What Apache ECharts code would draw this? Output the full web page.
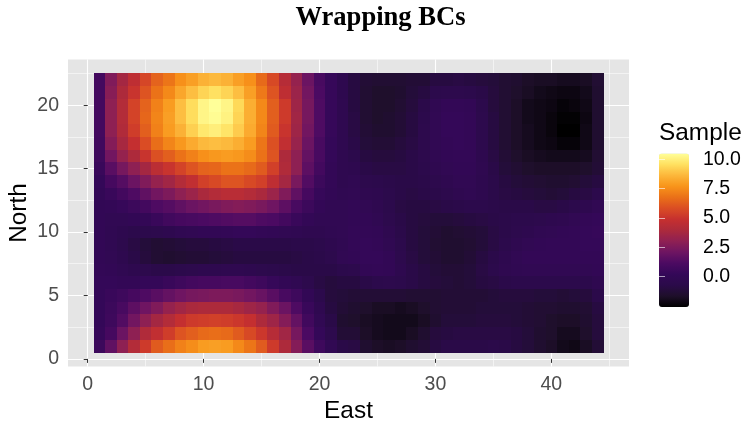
<!DOCTYPE html>
<html><head><meta charset="utf-8">
<style>html,body{margin:0;padding:0;background:#fff}#c{width:743px;height:422px}</style>
<script src="https://cdn.jsdelivr.net/npm/echarts@6/dist/echarts.min.js"></script>
</head><body><div id="c"></div>
<script>
const chartTitle = 'Wrapping BCs';
const xTicks = [0,10,20,30,40];
const xMinor = [5,15,25,35,45];
const yTicks = [0,5,10,15,20];
const yMinor = [2.5,7.5,12.5,17.5,22.5];
const legendTicks = [0,2.5,5,7.5,10];
const sampleMin = -2.6, sampleMax = 10.5;
const palette = ['#000000','#1e0f2a','#2b0a4a','#340858','#4c0a62','#6e1562','#8f2053','#ac2a3c','#c6302f','#da4d24','#ea7018','#f8941a','#fcb63a','#ffe060','#ffff99'];
// each row: East = 1..44, named by its North value
const north22 = [.8,2.6,3.7,4.6,5.6,6.4,6.9,7.6,8.0,8.5,8.7,8.5,8.0,7.6,6.6,5.7,4.3,3.2,2.0,1.0,.3,-.4,-1.0,-1.3,-1.4,-1.4,-1.4,-1.3,-1.3,-1.0,-1.0,-.9,-1.0,-1.1,-1.2,-1.4,-1.5,-1.7,-1.8,-1.8,-1.9,-1.9,-1.8,-1.4];
const north21 = [.8,2.8,4.0,5.0,6.0,6.8,7.4,8.2,8.8,9.3,9.6,9.3,8.8,8.0,7.0,6.0,4.6,3.4,2.2,1.1,.3,-.4,-1.0,-1.4,-1.6,-1.6,-1.5,-1.2,-1.0,-.6,-.5,-.5,-.6,-.8,-1.1,-1.4,-1.6,-1.8,-2.0,-2.1,-2.2,-2.2,-2.0,-1.5];
const north20 = [.8,3.0,4.2,5.5,6.4,7.2,7.9,8.8,9.5,10.2,10.5,10.2,9.4,8.4,7.4,6.3,5.2,3.5,2.3,1.2,.3,-.3,-1.0,-1.4,-1.6,-1.6,-1.4,-1.1,-.7,-.2,.1,.1,.0,-.6,-1.1,-1.4,-1.7,-2.0,-2.1,-2.2,-2.4,-2.3,-2.1,-1.5];
const north19 = [.8,3.0,4.2,5.5,6.5,7.3,8.0,8.8,9.5,10.2,10.4,10.1,9.3,8.4,7.4,6.3,5.2,3.6,2.3,1.2,.3,-.3,-.9,-1.4,-1.6,-1.5,-1.3,-1.0,-.6,-.1,.2,.2,.1,-.5,-1.0,-1.4,-1.7,-2.0,-2.1,-2.3,-2.5,-2.5,-2.2,-1.5];
const north18 = [.8,3.0,4.1,5.3,6.3,7.2,7.9,8.5,9.2,9.8,10.0,9.7,9.1,8.3,7.3,6.2,5.0,3.5,2.2,1.2,.3,-.3,-.9,-1.3,-1.5,-1.5,-1.3,-1.0,-.5,-.1,.2,.2,.1,-.5,-1.0,-1.4,-1.7,-1.9,-2.1,-2.3,-2.6,-2.6,-2.1,-1.5];
const north17 = [.7,2.7,3.8,4.8,5.8,6.7,7.3,7.8,8.3,8.7,8.8,8.7,8.4,7.9,6.9,5.9,4.7,3.3,2.0,1.0,.2,-.3,-.8,-1.2,-1.3,-1.3,-1.1,-.9,-.5,-.1,.1,.2,.1,-.5,-1.0,-1.4,-1.7,-1.9,-2.1,-2.2,-2.4,-2.4,-2.1,-1.5];
const north16 = [.6,2.2,3.2,4.0,5.0,5.9,6.3,6.8,7.2,7.6,7.8,7.9,7.8,7.5,6.8,6.0,4.0,3.0,1.8,1.0,.2,-.3,-.6,-1.0,-1.1,-1.1,-1.0,-.8,-.5,-.2,.0,.1,.1,-.4,-.9,-1.3,-1.6,-1.8,-1.9,-2.0,-2.0,-2.0,-1.9,-1.4];
const north15 = [.4,1.5,2.3,3.0,3.7,4.5,5.0,5.5,6.0,6.4,6.5,6.8,6.8,6.6,6.2,5.4,4.1,3.0,1.6,.8,.1,-.3,-.4,-.8,-.9,-.9,-.9,-.8,-.6,-.3,-.1,0,0,-.3,-.8,-1.2,-1.4,-1.6,-1.7,-1.7,-1.7,-1.7,-1.6,-1.3];
const north14 = [.2,.9,1.4,2.0,2.6,3.2,3.6,4.2,4.7,5.4,5.7,6.0,6.0,5.7,5.4,4.6,3.7,2.4,1.3,.5,.1,-.3,-.2,-.5,-.6,-.7,-.8,-.8,-.7,-.5,-.3,-.1,-.1,-.4,-.7,-1.0,-1.2,-1.3,-1.4,-1.5,-1.5,-1.4,-1.2,-1.0];
const north13 = [.1,.4,.8,1.2,1.7,2.2,2.5,3.0,3.4,3.9,4.2,4.4,4.4,4.2,3.9,3.4,2.6,1.7,.9,.3,0,-.2,-.1,-.3,-.4,-.6,-.8,-.9,-.8,-.7,-.5,-.3,-.2,-.4,-.7,-.9,-1.0,-1.1,-1.2,-1.3,-1.2,-1.0,-.9,-.6];
const north12 = [0,.1,.3,.5,.8,1.2,1.4,1.7,2.0,2.2,2.4,2.6,2.7,2.6,2.4,2.1,1.6,1.0,.5,.1,-.1,-.1,0,-.1,-.3,-.6,-.9,-1.0,-1.0,-.9,-.8,-.7,-.6,-.6,-.7,-.8,-.8,-.8,-.9,-.9,-.8,-.6,-.4,-.1];
const north11 = [0,-.1,-.1,0,.1,.4,.7,.9,1.0,1.1,1.2,1.3,1.4,1.4,1.2,1.1,.8,.4,.1,-.1,-.1,-.1,0,0,-.2,-.5,-.8,-1.0,-1.1,-1.2,-1.2,-1.1,-1.0,-.9,-.8,-.7,-.6,-.6,-.5,-.4,-.3,-.1,.1,.2];
const north10 = [0,-.2,-.4,-.6,-.6,-.5,-.4,-.2,-.1,0,0,.1,.2,.2,.1,0,-.1,-.2,-.3,-.3,-.2,-.1,.1,.1,0,-.3,-.7,-1.0,-1.2,-1.3,-1.5,-1.4,-1.3,-1.2,-.9,-.7,-.5,-.4,-.2,-.1,0,.1,.2,.3];
const north09 = [0,-.2,-.5,-.9,-1.2,-1.4,-1.3,-1.2,-1.1,-1.1,-1.0,-.9,-.8,-.8,-.8,-.8,-.8,-.7,-.7,-.6,-.4,-.2,.1,.2,.1,-.2,-.6,-1.0,-1.2,-1.4,-1.5,-1.5,-1.4,-1.2,-.9,-.6,-.3,-.1,0,.1,.1,.1,.2,.2];
const north08 = [0,-.1,-.4,-.8,-1.1,-1.4,-1.5,-1.4,-1.3,-1.3,-1.2,-1.1,-1.0,-1.0,-1.0,-1.0,-1.0,-.9,-.8,-.7,-.5,-.1,0,.2,.2,0,-.5,-.9,-1.2,-1.3,-1.5,-1.5,-1.3,-1.0,-.7,-.4,-.1,.1,.1,.1,.1,.1,.1,.1];
const north07 = [.1,0,-.2,-.4,-.5,-.7,-.7,-.6,-.5,-.4,-.4,-.3,-.3,-.4,-.5,-.6,-.7,-.8,-.8,-.8,-.8,-.6,-.5,0,.1,0,-.4,-.8,-1.0,-1.2,-1.3,-1.3,-1.2,-.9,-.6,-.3,-.2,-.1,-.1,-.1,-.1,-.1,-.1,0];
const north06 = [.2,.2,.1,.1,.2,.2,.4,.6,.8,.9,.9,1.0,1.0,.8,.6,.3,0,-.2,-.5,-.9,-1.1,-1.0,-1.0,-.8,-.6,-.5,-.6,-.8,-1.0,-1.1,-1.2,-1.3,-1.2,-1.0,-.9,-.7,-.6,-.6,-.6,-.6,-.6,-.6,-.6,-.3];
const north05 = [.2,.4,.6,.9,1.2,1.5,1.8,2.1,2.3,2.4,2.5,2.5,2.4,2.2,1.9,1.5,1.0,.6,0,-.6,-1.1,-1.2,-1.3,-1.3,-1.3,-1.3,-1.3,-1.4,-1.4,-1.4,-1.3,-1.3,-1.3,-1.3,-1.2,-1.1,-1.1,-1.1,-1.2,-1.2,-1.3,-1.2,-1.1,-.7];
const north04 = [.2,.5,1.0,1.6,2.1,2.6,3.2,3.6,3.9,4.0,4.0,4.0,3.8,3.5,3.2,2.6,2.0,1.2,.4,-.3,-1.0,-1.3,-1.5,-1.6,-1.8,-1.8,-1.9,-1.8,-1.6,-1.4,-1.3,-1.3,-1.3,-1.2,-1.2,-1.2,-1.2,-1.3,-1.4,-1.4,-1.5,-1.5,-1.4,-1.0];
const north03 = [.2,.6,1.3,2.2,3.0,3.7,4.2,4.8,5.2,5.3,5.4,5.3,5.1,4.8,4.0,3.5,2.7,1.8,.7,-.1,-.8,-1.5,-1.6,-1.8,-1.9,-2.0,-2.0,-2.0,-1.8,-1.5,-1.2,-1.2,-1.2,-1.1,-1.1,-1.1,-1.2,-1.3,-1.4,-1.6,-1.7,-1.7,-1.5,-1.1];
const north02 = [.3,.9,2.0,3.0,4.1,4.7,5.3,6.0,6.3,6.6,6.7,6.6,6.2,5.7,5.1,4.3,3.6,2.3,1.1,.2,-.5,-1.3,-1.3,-1.7,-1.9,-2.0,-2.0,-1.8,-1.5,-1.1,-1.0,-.9,-.9,-.9,-.9,-.9,-1.0,-1.2,-1.5,-1.6,-1.9,-1.9,-1.6,-1.1];
const north01 = [.5,1.7,3.0,4.2,5.2,6.2,6.7,7.2,7.5,7.9,8.0,7.9,7.4,6.9,6.2,5.2,4.0,2.7,1.5,.6,-.1,-.8,-.9,-1.5,-1.7,-1.8,-1.7,-1.5,-1.3,-1.0,-.8,-.8,-.8,-.8,-.7,-.8,-1.0,-1.2,-1.5,-1.7,-2.0,-2.1,-1.8,-1.3];
const rows = [north01,north02,north03,north04,north05,north06,north07,north08,north09,north10,north11,north12,north13,north14,north15,north16,north17,north18,north19,north20,north21,north22];

const cells = [];
rows.forEach((r, j) => r.forEach((v, i) => cells.push([i + 1, j + 1, v])));

const sans = '"Liberation Sans", Arimo, Helvetica, Arial, sans-serif';
const chart = echarts.init(document.getElementById('c'), null, {renderer: 'canvas'});
const tickStyle = {show: true, length: 4, lineStyle: {color: '#333333', width: 1}};
const major = {show: true, lineStyle: {color: '#ffffff', width: 1.1}};
const minor = {show: true, lineStyle: {color: '#ffffff', width: 0.55}};
const xRange = {min: -1.7, max: 46.7}, yRange = {min: -0.6, max: 23.6};

chart.setOption({
  animation: false,
  backgroundColor: '#ffffff',
  title: [
    {text: chartTitle, left: 380.5, top: 5, textAlign: 'center', padding: 0,
     textStyle: {fontFamily: '"Liberation Serif", "Times New Roman", serif', fontWeight: 'bold', fontSize: 26.6, color: '#000000'}},
    {text: 'Sample', left: 659, top: 121, padding: 0,
     textStyle: {fontFamily: sans, fontWeight: 'normal', fontSize: 24.4, color: '#000000'}}
  ],
  grid: [
    {left: 68, top: 59.5, width: 561, height: 307, show: true, backgroundColor: '#e5e5e5', borderWidth: 0, outerBoundsMode: 'none'},
    {left: 659, top: 153.5, width: 30, height: 153.5, show: false, outerBoundsMode: 'none'}
  ],
  xAxis: [
    {type: 'value', gridIndex: 0, ...xRange, position: 'bottom',
     name: 'East', nameLocation: 'middle', nameGap: 33,
     nameTextStyle: {fontFamily: sans, fontSize: 24.4, color: '#000000'},
     axisLine: {show: false}, axisTick: {...tickStyle, customValues: xTicks},
     axisLabel: {customValues: xTicks, fontFamily: sans, fontSize: 19.5, color: '#4d4d4d', margin: 8},
     splitLine: major},
    {type: 'value', gridIndex: 0, ...xRange, position: 'bottom',
     axisLine: {show: false}, axisTick: {show: false, customValues: xMinor},
     axisLabel: {show: false, customValues: xMinor}, splitLine: minor},
    {type: 'value', gridIndex: 1, min: 0, max: 1, axisLine: {show: false}, axisTick: {show: false},
     axisLabel: {show: false}, splitLine: {show: false}}
  ],
  yAxis: [
    {type: 'value', gridIndex: 0, ...yRange, position: 'left',
     name: 'North', nameLocation: 'middle', nameGap: 37, nameRotate: 90, nameMoveOverlap: false,
     nameTextStyle: {fontFamily: sans, fontSize: 24.4, color: '#000000'},
     axisLine: {show: false}, axisTick: {...tickStyle, customValues: yTicks},
     axisLabel: {customValues: yTicks, fontFamily: sans, fontSize: 19.5, color: '#4d4d4d', margin: 9, padding: [5,0,0,0]},
     splitLine: major},
    {type: 'value', gridIndex: 0, ...yRange, position: 'left',
     axisLine: {show: false}, axisTick: {show: false, customValues: yMinor},
     axisLabel: {show: false, customValues: yMinor}, splitLine: minor},
    {type: 'value', gridIndex: 1, min: sampleMin, max: sampleMax, position: 'right', z: 20,
     axisLine: {show: false},
     axisTick: {show: true, inside: true, length: 6, customValues: legendTicks, lineStyle: {color: 'rgba(255,255,255,0.6)', width: 1}},
     axisLabel: {customValues: legendTicks, fontFamily: sans, fontSize: 19.5, color: '#000000', margin: 14, padding: [5,0,0,0],
                 formatter: v => Number(v).toFixed(1)},
     splitLine: {show: false}},
    {type: 'value', gridIndex: 1, min: sampleMin, max: sampleMax, position: 'left', z: 20,
     axisLine: {show: false},
     axisTick: {show: true, inside: true, length: 6, customValues: legendTicks, lineStyle: {color: 'rgba(255,255,255,0.6)', width: 1}},
     axisLabel: {show: false, customValues: legendTicks}, splitLine: {show: false}}
  ],
  visualMap: {
    type: 'continuous', show: true, seriesIndex: 0, dimension: 2,
    min: sampleMin, max: sampleMax, calculable: false, hoverLink: false, realtime: false,
    left: 659, top: 153.5, itemWidth: 30, itemHeight: 153.5, padding: 0, text: null, showLabel: false,
    inRange: {color: palette}
  },
  series: [{
    type: 'custom', coordinateSystem: 'cartesian2d', xAxisIndex: 0, yAxisIndex: 0,
    data: cells, encode: {x: 0, y: 1}, silent: true, clip: false,
    renderItem: (params, api) => {
      const lo = api.coord([api.value(0) - 0.5, api.value(1) - 0.5]);
      const hi = api.coord([api.value(0) + 0.5, api.value(1) + 0.5]);
      const x0 = Math.round(lo[0]), x1 = Math.round(hi[0]);
      const y0 = Math.round(hi[1]), y1 = Math.round(lo[1]);
      return {type: 'rect',
        shape: {x: x0, y: y0, width: x1 - x0, height: y1 - y0},
        style: {fill: api.visual('color')}};
    }
  }]
});
</script></body></html>
